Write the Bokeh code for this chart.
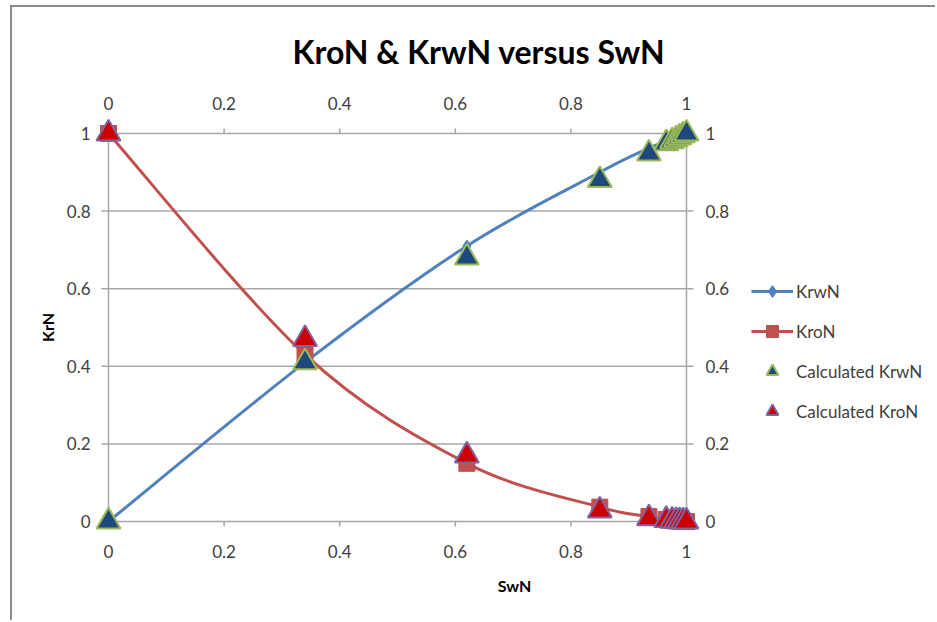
import numpy as np
from bokeh.plotting import figure
from bokeh.models import (LinearAxis, FixedTicker, Range1d, Legend, LegendItem,
                          LabelSet, ColumnDataSource)
from bokeh.core.properties import value
from bokeh.embed import file_html
from bokeh.resources import INLINE

# Normalised water saturation and normalised relative permeabilities
swn = [0.0, 0.34, 0.62, 0.85, 0.935, 0.965, 0.975, 0.982, 0.988, 0.994, 1.0]
krwn = [0.0, 0.41, 0.71, 0.90, 0.962, 0.978, 0.984, 0.989, 0.993, 0.996, 1.0]
kron = [1.0, 0.43, 0.15, 0.037, 0.013, 0.005, 0.003, 0.002, 0.001, 0.0005, 0.0]
calc_krwn = [0.0, 0.41, 0.68, 0.88, 0.948, 0.975, 0.98, 0.985, 0.99, 0.995, 1.0]
calc_kron = [1.0, 0.47, 0.17, 0.028, 0.008, 0.004, 0.002, 0.001, 0.0005, 0.0002, 0.0]

tick_values = [0, 0.2, 0.4, 0.6, 0.8, 1]
tick_labels = ["0", "0.2", "0.4", "0.6", "0.8", "1"]

GRAY = "#a6a6a6"
BLUE = "#4f81bd"
RED = "#c0504d"
FONT = "Lato"

# page geometry (pixels); the canvas sits inside a thin top/left chart border
PAGE_W, PAGE_H = 937, 622
OX, OY = 12, 7                   # canvas origin on the page
X0_PX, UNIT_X = 108, 578         # page x of SwN = 0, pixels per unit
Y0_PX, UNIT_Y = 521, 388         # page y of KrN = 0, pixels per unit
F_LEFT, F_TOP, F_BOTTOM = 91, 117, 537

W, H = PAGE_W - OX, PAGE_H - OY
x_lo = (F_LEFT - X0_PX) / UNIT_X
x_hi = (PAGE_W - X0_PX) / UNIT_X
y_lo = (Y0_PX - F_BOTTOM) / UNIT_Y
y_hi = (Y0_PX - F_TOP) / UNIT_Y
STUB_X, STUB_Y = 7 / UNIT_X, 5 / UNIT_Y


def smooth_segments(xs, ys):
    """Cubic Bezier pieces through the points (Catmull-Rom style smoothing)."""
    x = np.asarray(xs, float)
    y = np.asarray(ys, float)
    n = len(x)
    xp = np.concatenate([[x[0]], x, [x[-1]]])
    yp = np.concatenate([[y[0]], y, [y[-1]]])
    return dict(
        x0=xp[1:n], y0=yp[1:n],
        x1=xp[2:n + 1], y1=yp[2:n + 1],
        cx0=xp[1:n] + (xp[2:n + 1] - xp[0:n - 1]) / 6,
        cy0=yp[1:n] + (yp[2:n + 1] - yp[0:n - 1]) / 6,
        cx1=xp[2:n + 1] - (xp[3:n + 2] - xp[1:n]) / 6,
        cy1=yp[2:n + 1] - (yp[3:n + 2] - yp[1:n]) / 6,
    )


p = figure(width=W, height=H, output_backend="svg", toolbar_location=None,
           x_range=Range1d(x_lo, x_hi), y_range=Range1d(y_lo, y_hi),
           x_axis_location=None, y_axis_location=None,
           min_border_left=F_LEFT - OX, min_border_top=F_TOP - OY,
           min_border_right=0, min_border_bottom=PAGE_H - F_BOTTOM,
           outline_line_color=None, background_fill_color="white",
           border_fill_color="white",
           styles={"margin-left": "10px", "margin-top": "5px",
                   "border-left": "2px solid #8c8c8c",
                   "border-top": "2px solid #8c8c8c"})
p.grid.visible = False

p.title.text = "KroN & KrwN versus SwN"
p.title.align = "left"
p.title.offset = 201
p.title.text_font = FONT
p.title.text_font_style = "bold"
p.title.text_font_size = "32px"
p.title.text_color = "black"
p.title.standoff = 45

overrides = {v: t for v, t in zip(tick_values, tick_labels)}


def make_axis(standoff, **kw):
    return LinearAxis(ticker=FixedTicker(ticks=tick_values),
                      major_label_overrides=overrides,
                      axis_line_color=None,
                      major_tick_line_color=None, minor_tick_line_color=None,
                      major_tick_in=0, major_tick_out=0,
                      minor_tick_in=0, minor_tick_out=0,
                      major_label_standoff=standoff,
                      major_label_text_font=FONT,
                      major_label_text_font_size="17px",
                      major_label_text_color="#404040",
                      axis_label_text_font=FONT,
                      axis_label_text_font_style="bold",
                      axis_label_text_font_size="16px",
                      axis_label_text_color="black",
                      **kw)


p.add_layout(make_axis(7, axis_label="SwN", axis_label_standoff=15), "below")
p.add_layout(make_axis(8), "above")
p.add_layout(make_axis(1, axis_label="KrN", axis_label_standoff=7), "left")

# secondary KrN scale along SwN = 1
right_labels = ColumnDataSource(dict(x=[1] * len(tick_values), y=tick_values, text=tick_labels))
p.add_layout(LabelSet(x="x", y="y", text="text", source=right_labels, x_offset=19,
                      text_align="left", text_baseline="middle",
                      text_font=value(FONT), text_font_size=value("17px"),
                      text_color="#404040"))

# horizontal gridlines (with short outward stubs) and the two vertical edges
p.segment(x0=-STUB_X, x1=1 + STUB_X, y0=tick_values, y1=tick_values,
          line_color=GRAY, line_width=1.5)
p.segment(x0=[0, 1], x1=[0, 1], y0=0, y1=1, line_color=GRAY, line_width=1.5)
p.segment(x0=tick_values, x1=tick_values, y0=1, y1=1 + STUB_Y,
          line_color=GRAY, line_width=1.5)
p.segment(x0=tick_values, x1=tick_values, y0=0, y1=-STUB_Y,
          line_color=GRAY, line_width=1.5)

# KrwN: smoothed line with diamond markers
blue_line = p.bezier(source=smooth_segments(swn, krwn), x0="x0", y0="y0", x1="x1", y1="y1",
                     cx0="cx0", cy0="cy0", cx1="cx1", cy1="cy1",
                     line_color=BLUE, line_width=3)
diamonds = p.scatter(swn, krwn, marker="diamond", size=12, fill_color=BLUE, line_color=BLUE)

# KroN: smoothed line with square markers
red_line = p.bezier(source=smooth_segments(swn, kron), x0="x0", y0="y0", x1="x1", y1="y1",
                    cx0="cx0", cy0="cy0", cx1="cx1", cy1="cy1",
                    line_color=RED, line_width=3)
squares = p.scatter(swn, kron, marker="square", size=16, fill_color=RED, line_color=RED)

# calculated points
tri_w = p.scatter(swn, calc_krwn, marker="triangle", size=24, fill_color="#1f497d",
                  line_color="#9bbb59", line_width=2)
tri_o = p.scatter(swn, calc_kron, marker="triangle", size=24, fill_color="#cc0000",
                  line_color="#8064a2", line_width=2)

legend = Legend(items=[
    LegendItem(label="KrwN", renderers=[blue_line, diamonds]),
    LegendItem(label="KroN", renderers=[red_line, squares]),
    LegendItem(label="Calculated KrwN", renderers=[tri_w]),
    LegendItem(label="Calculated KroN", renderers=[tri_o]),
], location=(751 - F_LEFT, 111), glyph_width=42, glyph_height=30, label_height=30,
    spacing=10, padding=0, margin=0, border_line_color=None,
    background_fill_alpha=0, label_standoff=3,
    label_text_font=FONT, label_text_font_size="17px", label_text_color="#404040")
p.add_layout(legend)

open("out.html", "w").write(file_html(p, INLINE))
